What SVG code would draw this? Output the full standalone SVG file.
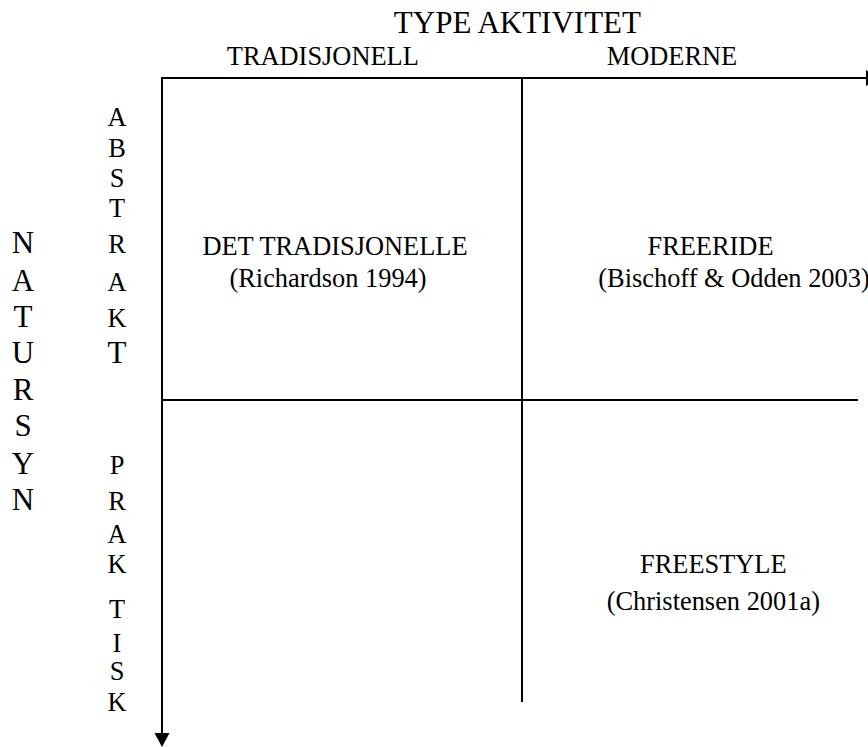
<svg xmlns="http://www.w3.org/2000/svg" width="868" height="747" viewBox="0 0 868 747">
<style>
  text { font-family: "Liberation Serif", "Times New Roman", serif; fill: #000; }
  .t { font-size: 26.4px; }
  .big { font-size: 31px; }
  .c { text-anchor: middle; }
  .ln { stroke: #000; stroke-width: 2; fill: none; }
  .ah { fill: #000; stroke: none; }
</style>
<rect width="868" height="747" fill="#fff"/>

<g id="connectors">
  <line class="ln" x1="162" y1="78" x2="867" y2="78"/>
  <polygon class="ah" points="866,70 880,78 866,86"/>
  <line class="ln" x1="162" y1="77" x2="162" y2="734"/>
  <polygon class="ah" points="154.5,733 169.5,733 162,747"/>
  <line class="ln" x1="522" y1="78" x2="522" y2="702"/>
  <line class="ln" x1="162" y1="400" x2="858" y2="400"/>
</g>

<g id="title-type-aktivitet">
  <text class="big c" x="517.4" y="33">TYPE AKTIVITET</text>
</g>
<g id="col-tradisjonell">
  <text class="t c" x="322.8" y="65">TRADISJONELL</text>
</g>
<g id="col-moderne">
  <text class="t c" x="672" y="65">MODERNE</text>
</g>

<g id="axis-natursyn">
  <text class="big c" x="23" y="253">N</text>
  <text class="big c" x="23" y="291">A</text>
  <text class="big c" x="23" y="327">T</text>
  <text class="big c" x="23" y="363">U</text>
  <text class="big c" x="23" y="400">R</text>
  <text class="big c" x="23" y="436">S</text>
  <text class="big c" x="23" y="474">Y</text>
  <text class="big c" x="23" y="510">N</text>
</g>

<g id="row-abstrakt">
  <text class="t c" x="117" y="126">A</text>
  <text class="t c" x="117" y="157">B</text>
  <text class="t c" x="117" y="187">S</text>
  <text class="t c" x="117" y="217">T</text>
  <text class="t c" x="117" y="253">R</text>
  <text class="t c" x="117" y="291">A</text>
  <text class="t c" x="117" y="327">K</text>
  <text class="big c" x="117" y="363">T</text>
</g>

<g id="row-praktisk">
  <text class="t c" x="117" y="474">P</text>
  <text class="t c" x="117" y="510">R</text>
  <text class="t c" x="117" y="543">A</text>
  <text class="t c" x="117" y="573">K</text>
  <text class="t c" x="117" y="618">T</text>
  <text class="t c" x="117" y="652">I</text>
  <text class="t c" x="117" y="680">S</text>
  <text class="t c" x="117" y="711">K</text>
</g>

<g id="cell-det-tradisjonelle">
  <text class="t c" x="335" y="255">DET TRADISJONELLE</text>
  <text class="t c" x="328" y="287">(Richardson 1994)</text>
</g>
<g id="cell-freeride">
  <text class="t c" x="710.5" y="255">FREERIDE</text>
  <text class="t c" x="734" y="287">(Bischoff &amp; Odden 2003)</text>
</g>
<g id="cell-freestyle">
  <text class="t c" x="713.3" y="573">FREESTYLE</text>
  <text class="t c" x="713.3" y="610">(Christensen 2001a)</text>
</g>
</svg>
